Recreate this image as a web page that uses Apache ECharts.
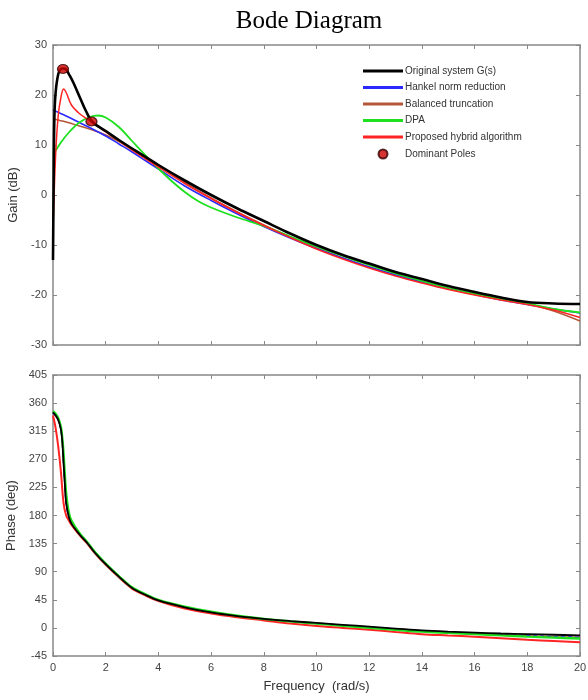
<!DOCTYPE html>
<html>
<head>
<meta charset="utf-8">
<script src="https://cdn.jsdelivr.net/npm/echarts@6/dist/echarts.min.js"></script>
<style>
html,body{margin:0;padding:0;background:#fff;}
#chart{width:588px;height:700px;}
</style>
</head>
<body>
<div id="chart"></div>
<script>
// ---------- Gain (dB) data ----------
const gainOrigX = [0,0.02,0.05,0.1,0.2,0.3,0.4,0.5,0.6,0.77,1.02,1.25,1.5,2,2.5,3,4,5,6,7,8,9,10,11,12,13,14,15,16,17,18,19,20];
const gainOrigY = [-13,0,15,20.5,24.2,25.2,25.3,25.1,24.2,22.5,19.5,16.8,14.6,12.8,11.0,9.3,6.0,2.9,0.0,-2.7,-5.2,-7.7,-10.0,-12.0,-13.7,-15.4,-16.8,-18.2,-19.4,-20.5,-21.4,-21.7,-21.8];

const gainHankelX = [0,0.5,1,1.5,2,2.5,3,3.5,4,5,6,7,8,9,10,11,12,13,14,15,16,17,18,19,20];
const gainHankelY = [17,15.8,14.5,13.2,11.8,10.2,8.6,6.9,5.2,1.8,-1.1,-3.8,-6.3,-8.6,-10.7,-12.6,-14.4,-16.0,-17.4,-18.7,-19.9,-21.0,-21.9,-22.8,-23.6];

const gainBalX = [0,0.5,1,1.5,2,2.5,3,3.5,4,5,6,7,8,9,10,11,12,13,14,15,16,17,18,19,20];
const gainBalY = [15.2,14.6,13.8,13.0,12.0,10.7,9.2,7.6,6.0,2.5,-0.6,-3.4,-6.0,-8.4,-10.6,-12.6,-14.4,-16.0,-17.4,-18.7,-19.8,-20.8,-21.7,-23.2,-25.2];

const gainDpaX = [0,0.3,0.6,1,1.4,1.7,2,2.5,3,3.5,4,4.5,5,5.5,6,7,8,9,10,11,12,13,14,15,16,17,18,19,20];
const gainDpaY = [8,10.5,12.5,14.5,15.6,15.9,15.5,13.6,10.8,8.0,5.3,2.8,0.6,-1.2,-2.5,-4.5,-6.2,-8.3,-10.3,-12.2,-14.0,-15.7,-17.2,-18.6,-19.8,-20.8,-21.7,-22.8,-23.5];

const gainHybX = [0,0.1,0.2,0.3,0.4,0.5,0.7,1.0,1.3,1.5,2,2.5,3,4,5,6,7,8,9,10,11,12,13,14,15,16,17,18,19,20];
const gainHybY = [-7,8,16,19.5,21.2,20.5,18,16.3,15.2,14.5,12.6,10.8,9.0,5.6,2.3,-0.7,-3.5,-6.1,-8.5,-10.8,-12.8,-14.6,-16.2,-17.6,-18.9,-20.0,-21.0,-21.9,-23.0,-24.5];

const poleX = [0.38,1.46];
const poleY = [25.2,14.7];

// ---------- Phase (deg) data ----------
const phOrigX = [0,0.1,0.2,0.3,0.35,0.4,0.45,0.5,0.6,0.7,1,1.3,1.6,2,2.5,3,3.5,4,5,6,7,8,9,10,11,12,13,14,15,16,17,18,19,20];
const phOrigY = [345,340,333,318,300,265,230,200,178,167,150,136,120,102,82,64,53,44,33,25,19,14.5,11,8,5,2,-1,-4,-6,-7.5,-9,-10,-11,-12];

const phHankelX = [0,0.1,0.2,0.3,0.35,0.4,0.45,0.5,0.6,0.7,1,1.3,1.6,2,2.5,3,3.5,4,5,6,7,8,9,10,11,12,13,14,15,16,17,18,19,20];
const phHankelY = [345,340,333,318,300,265,230,200,178,167,150,136,120,102,82,64,53,44,33,25,19,14,10.5,7,4,1,-2,-5,-7.5,-9.5,-11,-12.5,-14,-15];

const phBalX = phHankelX;
const phBalY = [345,340,333,318,300,265,230,200,178,167,150,136,120,102,82,64,53,44,33,25,19,14,10.5,7,4,1,-2,-5,-7.5,-9.5,-11,-12.5,-14,-15];

const phDpaX = [0,0.1,0.2,0.3,0.35,0.4,0.45,0.5,0.6,0.7,1,1.3,1.6,2,2.5,3,3.5,4,5,6,7,8,9,10,11,12,13,14,15,16,17,18,19,20];
const phDpaY = [347,343,336,322,305,280,245,215,185,172,152,137,121,103,83,65,54,45,34,26,19.5,14.5,10.5,7,3.5,0,-3,-6,-8,-10,-12,-14,-15.5,-17];

const phHybX = [0,0.1,0.2,0.3,0.4,0.5,0.6,0.7,1,1.3,1.6,2,2.5,3,3.5,4,5,6,7,8,9,10,11,12,13,14,15,16,17,18,19,20];
const phHybY = [340,320,290,250,200,180,172,165,149,135,119,101,81,63,52,43,31,23,17,12,7,3,0,-3,-6.5,-10,-12,-14,-16.5,-19,-21,-23];

const names = ['Original system G(s)','Hankel norm reduction','Balanced truncation','DPA','Proposed hybrid algorithm','Dominant Poles'];
const colors = ['#000000','#2a2aff','#b5563a','#1ee01e','#ff2424','#cc0000'];

function pairs(xs, ys){ return xs.map((x,i)=>[x, ys[i]]); }

const chart = echarts.init(document.getElementById('chart'), null, {renderer:'canvas'});

const labelStyle = {color:'#444', fontSize:11, fontFamily:'Arial, Liberation Sans, sans-serif'};
const nameStyle = {color:'#333', fontSize:13, fontFamily:'Arial, Liberation Sans, sans-serif'};
const lineAx = {show:true, onZero:false, lineStyle:{color:'#888', width:1.5}};
const tickIn = {show:true, inside:true, length:4, lineStyle:{color:'#888'}};

function xAxis(grid, pos, showLabel, name){
  return {
    type:'value', gridIndex:grid, position:pos, min:0, max:20, interval:2,
    axisLine:lineAx, axisTick:tickIn, splitLine:{show:false},
    axisLabel:Object.assign({show:showLabel, margin:6}, labelStyle),
    name:name||'', nameLocation:'middle', nameGap:24, nameTextStyle:nameStyle
  };
}
function yAxis(grid, pos, min, max, interval, showLabel, name, gap){
  return {
    type:'value', gridIndex:grid, position:pos, min:min, max:max, interval:interval,
    axisLine:lineAx, axisTick:tickIn, splitLine:{show:false},
    axisLabel:Object.assign({show:showLabel, margin:6}, labelStyle),
    name:name||'', nameLocation:'middle', nameGap:gap||0, nameRotate:90, nameTextStyle:nameStyle
  };
}

function lineSeries(name, color, data, xi, yi, width, z, dashed){
  return {
    name:name, type:'line', xAxisIndex:xi, yAxisIndex:yi, data:data,
    showSymbol:false, symbol:'none', smooth:0.35, z:z, animation:false,
    lineStyle:{color:color, width:width, type: dashed ? [4,3] : 'solid'},
    itemStyle:{color:color}
  };
}

const linePath = 'path://M0,0L40,0L40,3L0,3Z';

const option = {
  backgroundColor:'#fff',
  animation:false,
  title:{
    text:'Bode Diagram', left:304, top:4, textAlign:'center',
    textStyle:{fontFamily:'Liberation Serif, Times New Roman, serif', fontSize:25, fontWeight:'normal', color:'#000'}
  },
  legend:{
    orient:'vertical', left:358, top:61, itemWidth:40, itemHeight:9, itemGap:6.5,
    textStyle:{fontSize:10, color:'#333', fontFamily:'Arial, Liberation Sans, sans-serif', padding:[0,0,0,-3]},
    data:[
      {name:names[0], icon:linePath},
      {name:names[1], icon:linePath},
      {name:names[2], icon:linePath},
      {name:names[3], icon:linePath},
      {name:names[4], icon:linePath},
      {name:names[5], icon:'circle'}
    ]
  },
  grid:[
    {left:53, top:45, width:527, height:300, show:false, containLabel:false, outerBoundsMode:'none'},
    {left:53, top:375, width:527, height:281, show:false, containLabel:false, outerBoundsMode:'none'}
  ],
  xAxis:[
    xAxis(0,'bottom',false),
    xAxis(0,'top',false),
    xAxis(1,'bottom',true,'Frequency  (rad/s)'),
    xAxis(1,'top',false)
  ],
  yAxis:[
    yAxis(0,'left',-30,30,10,true,'Gain (dB)',26),
    yAxis(0,'right',-30,30,10,false),
    yAxis(1,'left',-45,405,45,true,'Phase (deg)',30),
    yAxis(1,'right',-45,405,45,false)
  ],
  series:[
    lineSeries(names[2], colors[2], pairs(gainBalX,gainBalY), 0,0, 1.5, 2),
    lineSeries(names[1], colors[1], pairs(gainHankelX,gainHankelY), 0,0, 1.5, 3),
    lineSeries(names[3], colors[3], pairs(gainDpaX,gainDpaY), 0,0, 1.8, 4),
    lineSeries(names[4], colors[4], pairs(gainHybX,gainHybY), 0,0, 1.5, 5),
    lineSeries(names[0], colors[0], pairs(gainOrigX,gainOrigY), 0,0, 2.6, 6),
    {
      name:names[5], type:'scatter', xAxisIndex:0, yAxisIndex:0, data:pairs(poleX,poleY),
      symbol:'circle', symbolSize:[11,9], z:10,
      itemStyle:{color:colors[5], borderColor:'#300', borderWidth:1.2}
    },
    lineSeries(names[2], colors[2], pairs(phBalX,phBalY), 2,2, 1.5, 2),
    lineSeries(names[1], colors[1], pairs(phHankelX,phHankelY), 2,2, 1.5, 3, true),
    lineSeries(names[4], colors[4], pairs(phHybX,phHybY), 2,2, 2, 4),
    lineSeries(names[3], colors[3], pairs(phDpaX,phDpaY), 2,2, 2.4, 5),
    lineSeries(names[0], colors[0], pairs(phOrigX,phOrigY), 2,2, 1.8, 6)
  ]
};
chart.setOption(option);
</script>
</body>
</html>
